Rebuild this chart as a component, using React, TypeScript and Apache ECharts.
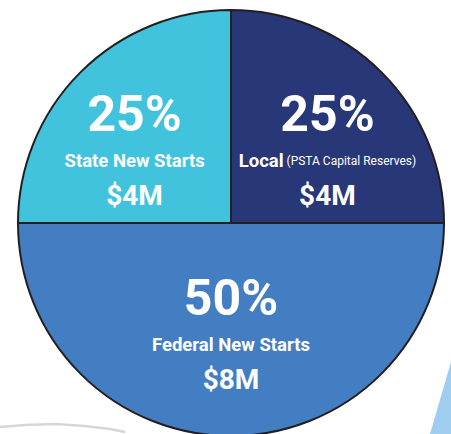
import React, { useEffect, useRef } from "react";
import * as echarts from "echarts";

const names = ["State New Starts", "Local", "Federal New Starts"];
const subNames = ["", "(PSTA Capital Reserves)", ""];
const valuesM = [4, 4, 8];
const colors = ["#42C3DD", "#283778", "#437EC2"];
const labelShift = [
  [-19, 3],
  [19, 3],
  [0, 0],
];

export default function App() {
  const ref = useRef<HTMLDivElement>(null);
  useEffect(() => {
    if (!ref.current) return;
    const chart = echarts.init(ref.current, null, { renderer: "svg" });
    const font = "Roboto, 'Liberation Sans', sans-serif";
    chart.setOption({
      animation: false,
      backgroundColor: "#ffffff",
      graphic: [
        {
          type: "polygon",
          shape: { points: [[430, 434], [451, 362], [451, 434]] },
          style: { fill: "#9ECDF0" },
          z: 0,
        },
        {
          type: "polyline",
          shape: { points: [[0, 427], [25, 425], [55, 424], [85, 426], [110, 429], [125, 432]] },
          style: { stroke: "#d4d7d8", lineWidth: 2.5, fill: null },
          z: 0,
        },
      ],
      series: [
        {
          type: "pie",
          center: [231, 223],
          radius: [0, 213],
          startAngle: 180,
          clockwise: true,
          silent: true,
          itemStyle: { borderColor: "#231F20", borderWidth: 2 },
          labelLine: { show: false },
          label: {
            show: true,
            position: "inside",
            color: "#ffffff",
            fontFamily: font,
            fontWeight: "bold",
            align: "center",
            formatter: (p: any) => {
              const sub = subNames[p.dataIndex];
              const nameRow = sub ? `{n|${p.name}} {s|${sub}}` : `{n|${p.name}}`;
              return `{p|${Math.round(p.percent)}%}\n${nameRow}\n{v|$${p.value}M}`;
            },
            rich: {
              p: { fontFamily: font, fontWeight: "bold", fontSize: 50, lineHeight: 60, color: "#fff", align: "center" },
              n: { fontFamily: font, fontWeight: "bold", fontSize: 18.5, lineHeight: 34, color: "#fff" },
              s: { fontFamily: font, fontWeight: "normal", fontSize: 12, lineHeight: 34, color: "#fff" },
              v: { fontFamily: font, fontWeight: "bold", fontSize: 28, lineHeight: 36, color: "#fff", align: "center" },
            },
          },
          labelLayout: (params: any) => ({
            dx: labelShift[params.dataIndex][0],
            dy: labelShift[params.dataIndex][1],
          }),
          data: names.map((n, i) => ({
            name: n,
            value: valuesM[i],
            itemStyle: { color: colors[i] },
          })),
        },
      ],
    });
    return () => chart.dispose();
  }, []);
  return (
    <div
      ref={ref}
      style={{ position: "absolute", left: 0, top: 0, width: 451, height: 434 }}
    />
  );
}
